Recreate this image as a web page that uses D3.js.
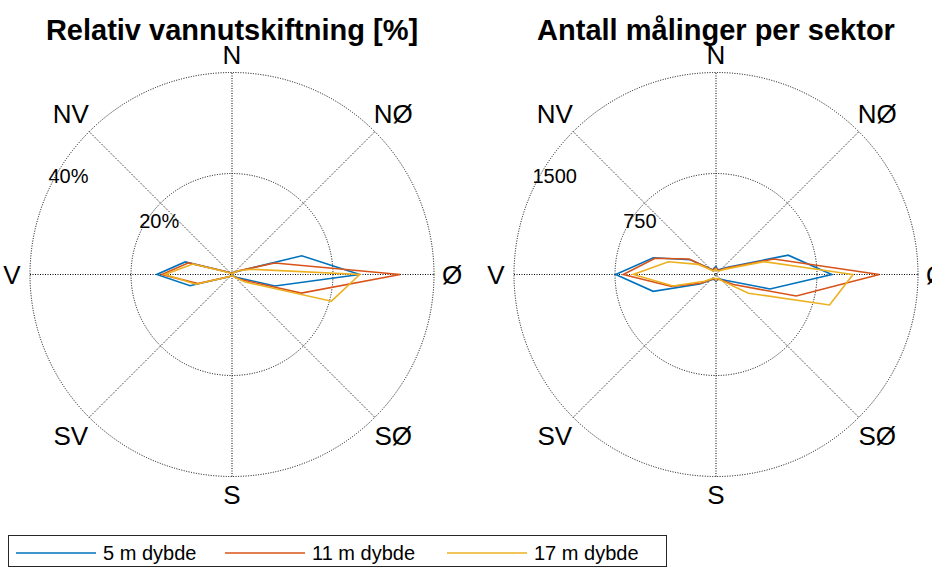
<!DOCTYPE html>
<html>
<head>
<meta charset="utf-8">
<script src="https://cdn.jsdelivr.net/npm/d3@7"></script>
<style>
  body { margin: 0; background: #fff; }
  text { font-family: "Liberation Sans", Arial, Helvetica, sans-serif; fill: #000; }
</style>
</head>
<body>
<div id="output"></div>
<script>
// sector bearings (compass degrees, clockwise from north)
var sectors = [0, 15, 30, 45, 60, 75, 90, 105, 120, 135, 150, 165, 180, 195, 210, 225, 240, 255, 270, 285, 300, 315, 330, 345];

var compassLabels = ["N", "NØ", "Ø", "SØ", "S", "SV", "V", "NV"];
var compassBearings = [0, 45, 90, 135, 180, 225, 270, 315];

var depthLabels = ["5 m dybde", "11 m dybde", "17 m dybde"];
var depthColors = ["#0072BD", "#D95319", "#EDB120"];

// relative water exchange [%]
var exchange5 = [0.3, 0.3, 0.4, 0.6, 1.2, 14.3, 25.3, 8.8, 1.2, 0.5, 0.3, 0.2, 0.2, 0.2, 0.3, 0.5, 1.0, 8.6, 14.9, 9.6, 1.0, 0.5, 0.3, 0.3];
var exchange11 = [0.3, 0.3, 0.4, 0.6, 1.5, 8.8, 33.3, 14.2, 2.0, 0.6, 0.3, 0.2, 0.2, 0.2, 0.3, 0.5, 1.0, 7.0, 13.9, 8.9, 1.0, 0.4, 0.3, 0.3];
var exchange17 = [0.2, 0.2, 0.3, 0.5, 1.5, 4.0, 25.3, 20.4, 3.0, 0.8, 0.3, 0.2, 0.2, 0.2, 0.3, 0.5, 1.0, 7.4, 13.3, 8.0, 0.8, 0.4, 0.2, 0.2];
var exchangeTicks = [20, 40];
var exchangeTickLabels = ["20%", "40%"];

// number of measurements per sector
var count5 = [60, 40, 40, 60, 110, 555, 860, 415, 90, 50, 40, 40, 50, 40, 40, 60, 140, 483, 745, 482, 220, 60, 40, 50];
var count11 = [50, 35, 35, 50, 100, 445, 1213, 617, 150, 60, 40, 35, 45, 35, 35, 55, 130, 342, 689, 468, 230, 55, 35, 45];
var count17 = [40, 30, 30, 40, 80, 370, 1017, 873, 278, 70, 35, 30, 40, 30, 30, 45, 100, 330, 614, 366, 150, 45, 30, 35];
var countTicks = [750, 1500];
var countTickLabels = ["750", "1500"];

var width = 932, height = 567;

var svg = d3.select("#output").append("svg")
  .attr("width", width)
  .attr("height", height)
  .attr("viewBox", "0 0 " + width + " " + height);

drawPolar(232, "Relativ vannutskiftning [%]", [exchange5, exchange11, exchange17], exchangeTicks, exchangeTickLabels);
drawPolar(716, "Antall målinger per sektor", [count5, count11, count17], countTicks, countTickLabels);
drawLegend();

function drawPolar(cx, title, series, ticks, tickLabels) {
  var cy = 274.5;
  var R = 202;
  var rad = Math.PI / 180;

  var r = d3.scaleLinear()
    .domain([0, ticks[ticks.length - 1]])
    .range([0, R]);

  var g = svg.append("g")
    .attr("transform", "translate(" + cx + "," + cy + ")");

  // dotted grid: rings and spokes
  g.selectAll("circle.ring")
    .data(ticks)
    .enter().append("circle")
    .attr("class", "ring")
    .attr("r", function(d) { return r(d); })
    .attr("fill", "none")
    .attr("stroke", "#000")
    .attr("stroke-width", 1)
    .attr("stroke-dasharray", "1,1.5");

  g.selectAll("line.spoke")
    .data([0, 45, 90, 135])
    .enter().append("line")
    .attr("class", "spoke")
    .attr("x1", function(d) { return -R * Math.sin(d * rad); })
    .attr("y1", function(d) { return R * Math.cos(d * rad); })
    .attr("x2", function(d) { return R * Math.sin(d * rad); })
    .attr("y2", function(d) { return -R * Math.cos(d * rad); })
    .attr("stroke", "#000")
    .attr("stroke-width", 1)
    .attr("stroke-dasharray", "1,1.5");

  // ring labels along the 296 degree ray
  var labelAngle = 296 * rad;
  g.selectAll("text.tick")
    .data(ticks)
    .enter().append("text")
    .attr("class", "tick")
    .attr("x", function(d) { return r(d) * Math.sin(labelAngle) - 2; })
    .attr("y", function(d) { return -r(d) * Math.cos(labelAngle) - 9.5; })
    .attr("dy", "0.35em")
    .attr("font-size", 20)
    .text(function(d, i) { return tickLabels[i]; });

  // compass labels
  g.selectAll("text.compass")
    .data(compassBearings)
    .enter().append("text")
    .attr("class", "compass")
    .attr("x", function(d) { return (d % 90 ? 228 : 220) * Math.sin(d * rad); })
    .attr("y", function(d) { return -(d % 90 ? 228 : 220) * Math.cos(d * rad); })
    .attr("dy", "0.36em")
    .attr("text-anchor", "middle")
    .attr("font-size", 26)
    .text(function(d, i) { return compassLabels[i]; });

  // data polygons
  var line = d3.lineRadial()
    .angle(function(d) { return d.bearing * rad; })
    .radius(function(d) { return r(d.value); })
    .curve(d3.curveLinearClosed);

  series.forEach(function(values, k) {
    var pts = sectors.map(function(b, i) { return { bearing: b, value: values[i] }; });
    g.append("path")
      .attr("d", line(pts))
      .attr("fill", "none")
      .attr("stroke", depthColors[k])
      .attr("stroke-width", 1.6)
      .attr("stroke-linejoin", "miter");
  });

  svg.append("text")
    .attr("x", cx)
    .attr("y", 40)
    .attr("text-anchor", "middle")
    .attr("font-size", 29)
    .attr("font-weight", "bold")
    .text(title);
}

function drawLegend() {
  var lg = svg.append("g");
  lg.append("rect")
    .attr("x", 8.5)
    .attr("y", 535.5)
    .attr("width", 658)
    .attr("height", 31)
    .attr("fill", "#fff")
    .attr("stroke", "#262626")
    .attr("stroke-width", 1);

  var starts = [16, 225, 447];
  depthLabels.forEach(function(name, k) {
    lg.append("line")
      .attr("x1", starts[k])
      .attr("x2", starts[k] + 80)
      .attr("y1", 553)
      .attr("y2", 553)
      .attr("stroke", depthColors[k])
      .attr("stroke-width", 1.5);
    lg.append("text")
      .attr("x", starts[k] + 87)
      .attr("y", 560)
      .attr("font-size", 20)
      .text(name);
  });
}
</script>
</body>
</html>
